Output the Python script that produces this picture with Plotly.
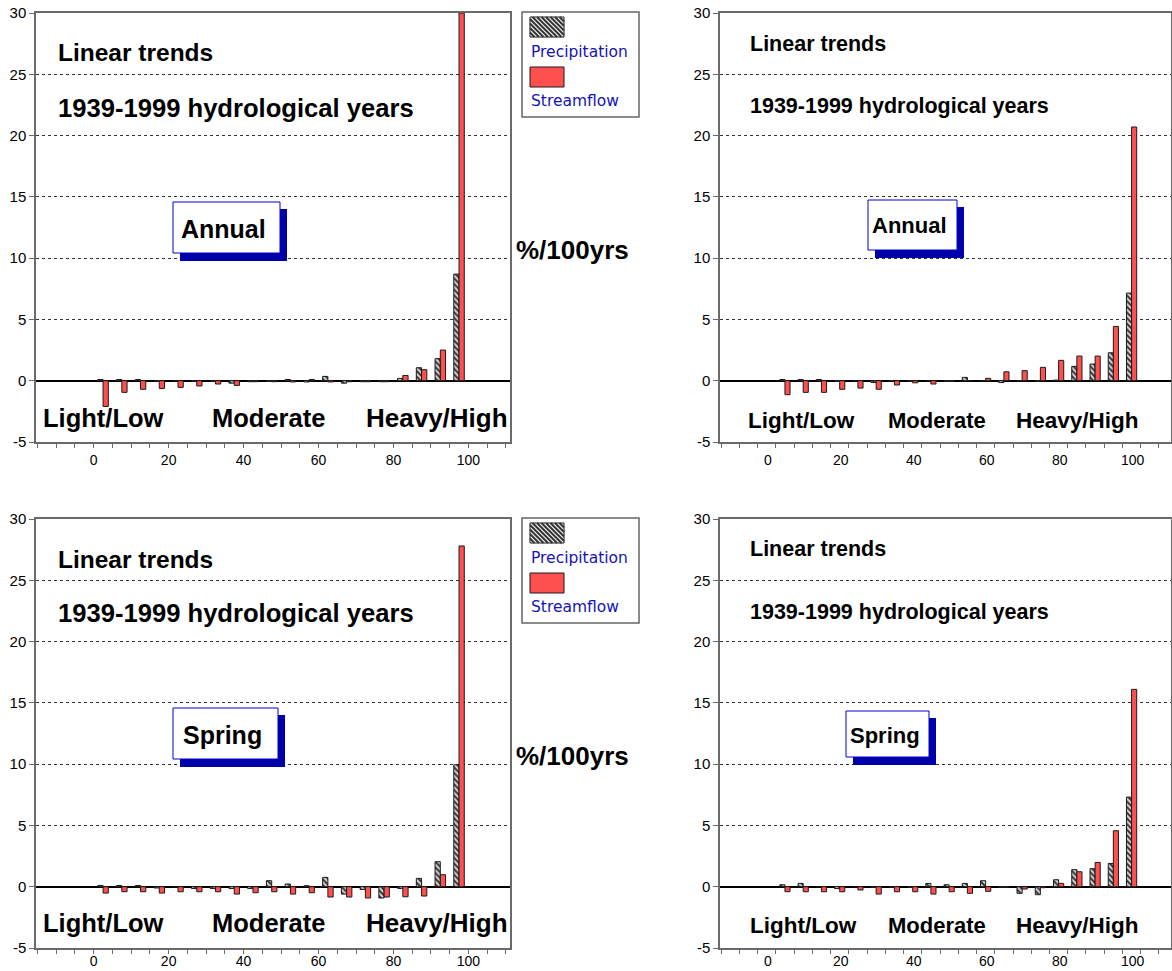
import plotly.graph_objects as go

W, H = 1172, 971

# ---------------- data ----------------
classes = [2.5, 7.5, 12.5, 17.5, 22.5, 27.5, 32.5, 37.5, 42.5, 47.5,
           52.5, 57.5, 62.5, 67.5, 72.5, 77.5, 82.5, 87.5, 92.5, 97.5]
x_tick_vals = [0, 20, 40, 60, 80, 100]
x_tick_text = ["0", "20", "40", "60", "80", "100"]
y_tick_vals = [-5, 0, 5, 10, 15, 20, 25, 30]
y_tick_text = ["-5", "0", "5", "10", "15", "20", "25", "30"]

annual_left_precip = [0.1, 0.1, 0.1, -0.05, 0.0, -0.05, -0.05, -0.2, -0.08, -0.05,
                      0.1, -0.1, 0.35, -0.2, -0.08, -0.08, 0.19, 1.06, 1.8, 8.7]
annual_left_stream = [-2.1, -0.95, -0.7, -0.63, -0.54, -0.43, -0.27, -0.38, -0.08, -0.08,
                      -0.1, 0.1, -0.1, -0.08, -0.08, -0.08, 0.43, 0.9, 2.5, 30.0]

annual_right_precip = [0.1, 0.1, 0.1, -0.05, 0.0, -0.15, -0.05, -0.05, 0.0, -0.05,
                       0.27, 0.0, -0.15, -0.05, -0.05, 0.05, 1.17, 1.36, 2.28, 7.15]
annual_right_stream = [-1.14, -0.95, -0.95, -0.7, -0.6, -0.7, -0.35, -0.17, -0.27, -0.05,
                       0.0, 0.19, 0.73, 0.82, 1.09, 1.66, 2.01, 2.01, 4.43, 20.7]

spring_left_precip = [0.1, 0.1, 0.1, -0.1, 0.0, -0.15, -0.15, -0.15, -0.15, 0.49,
                      0.22, 0.08, 0.76, -0.6, -0.22, -0.92, -0.14, 0.68, 2.04, 9.95]
spring_left_stream = [-0.52, -0.41, -0.41, -0.52, -0.41, -0.41, -0.41, -0.6, -0.49, -0.41,
                      -0.6, -0.49, -0.84, -0.84, -0.92, -0.84, -0.82, -0.76, 0.98, 27.8]

spring_right_precip = [0.16, 0.27, 0.0, -0.15, 0.0, -0.05, -0.05, -0.05, 0.27, 0.16,
                       0.27, 0.49, -0.05, -0.54, -0.65, 0.57, 1.39, 1.47, 1.9, 7.31]
spring_right_stream = [-0.41, -0.41, -0.41, -0.41, -0.27, -0.6, -0.41, -0.41, -0.6, -0.41,
                       -0.54, -0.38, -0.05, -0.19, -0.08, 0.27, 1.22, 1.98, 4.57, 16.1]

panels = [
    ("x", "y", annual_left_precip, annual_left_stream),
    ("x2", "y2", annual_right_precip, annual_right_stream),
    ("x3", "y3", spring_left_precip, spring_left_stream),
    ("x4", "y4", spring_right_precip, spring_right_stream),
]

# ---------------- styling ----------------
RED = "#ff5050"
HATCH_FG = "#333333"
HATCH_BG = "#d9d9d9"
NAVY = "#0000aa"
BLUE = "#1414b4"
AXIS_COL = "#6a6a6a"
BOLD = "Liberation Sans, Arial, sans-serif"


def px(x):
    return x / W


def py(y):
    return 1 - y / H


fig = go.Figure()

for xa, ya, prec, strm in panels:
    fig.add_trace(go.Bar(
        x=classes, y=prec, xaxis=xa, yaxis=ya, name="Precipitation",
        showlegend=False,
        marker=dict(color=HATCH_FG,
                    line=dict(color="#1a1a1a", width=1),
                    pattern=dict(shape="\\", fillmode="replace", fgcolor=HATCH_FG,
                                 bgcolor=HATCH_BG, size=4, solidity=0.5)),
    ))
    fig.add_trace(go.Bar(
        x=classes, y=strm, xaxis=xa, yaxis=ya, name="Streamflow",
        showlegend=False,
        marker=dict(color=RED, line=dict(color="#1a1a1a", width=1)),
    ))

# panel geometry (pixels): left, right, top(30), bottom(-5), x-range, label shift, standoff
geo = {
    "1": (36, 510, 13, 442, [-15.4, 111.1], 0, 0),
    "2": (720, 1171, 13, 442, [-15.3, 108.3], -8, 0),
    "3": (36, 510, 519, 948, [-15.4, 111.1], 0, -5),
    "4": (720, 1171, 519, 948, [-15.3, 108.3], -8, -5),
}

layout = dict(
    width=W, height=H, margin=dict(l=0, r=0, t=0, b=0, autoexpand=False),
    paper_bgcolor="white", plot_bgcolor="white",
    barmode="group", bargap=0.44, bargroupgap=0.0,
    showlegend=False,
)

for k, (l, r, t, b, xr, shift, standoff) in geo.items():
    xname = "xaxis" if k == "1" else f"xaxis{k}"
    yname = "yaxis" if k == "1" else f"yaxis{k}"
    yref = "y" if k == "1" else f"y{k}"
    xref = "x" if k == "1" else f"x{k}"
    layout[xname] = dict(
        domain=[px(l), px(r)], range=xr, anchor=yref, automargin=False,
        tickmode="array", tickvals=x_tick_vals, ticktext=x_tick_text,
        ticks="outside", ticklen=4, tickcolor=AXIS_COL, ticklabelshift=shift,
        ticklabelstandoff=standoff,
        minor=dict(ticks="outside", dtick=5, tick0=0, ticklen=4, tickcolor=AXIS_COL),
        showgrid=False, zeroline=False,
        showline=True, mirror=True, linecolor=AXIS_COL, linewidth=1.5,
        tickfont=dict(family=BOLD, size=14, color="black"),
        fixedrange=True,
    )
    layout[yname] = dict(
        domain=[py(b), py(t)], range=[-5, 30], anchor=xref, automargin=False,
        tickmode="array", tickvals=y_tick_vals, ticktext=y_tick_text,
        ticks="outside", ticklen=5, tickcolor=AXIS_COL,
        showgrid=True, griddash="dot", gridcolor="#333333", gridwidth=1,
        zeroline=True, zerolinecolor="black", zerolinewidth=1.5,
        showline=True, mirror=True, linecolor=AXIS_COL, linewidth=1.5,
        tickfont=dict(family=BOLD, size=15, color="black"),
        fixedrange=True,
    )

fig.update_layout(**layout)

shapes = []
annotations = []


def text(x, y, s, size=25, family=BOLD, color="black", anchor="left", bold=True):
    annotations.append(dict(
        xref="paper", yref="paper", x=px(x - (2 if anchor == "left" else 0)), y=py(y),
        text=(f"<b>{s}</b>" if bold else s),
        showarrow=False, xanchor=anchor, yanchor="middle",
        font=dict(family=family, size=size, color=color),
    ))


def rect(x0, y0, x1, y1, fill, line_col=None, lw=1):
    shapes.append(dict(
        type="rect", xref="paper", yref="paper",
        x0=px(x0), x1=px(x1), y0=py(y1), y1=py(y0),
        fillcolor=fill, line=dict(color=line_col or fill, width=lw if line_col else 0),
        layer="above",
    ))


def hatch_swatch(x0, y0, x1, y1, step=4.5):
    rect(x0, y0, x1, y1, "#f2f2f2", "#1a1a1a", 1)
    w, h = x1 - x0, y1 - y0
    c = -h
    while c < w:
        ts = max(0, -c)
        te = min(h, w - c)
        if te > ts:
            shapes.append(dict(
                type="line", xref="paper", yref="paper",
                x0=px(x0 + ts + c), y0=py(y0 + ts), x1=px(x0 + te + c), y1=py(y0 + te),
                line=dict(color=HATCH_FG, width=2), layer="above",
            ))
        c += step


def label_box(x0, y0, x1, y1, s, size, dx=0):
    rect(x0 + 7, y0 + 7, x1 + 7, y1 + 8, NAVY)
    rect(x0, y0, x1, y1, "white", "#0000cc", 1)
    text((x0 + x1) / 2 + dx, (y0 + y1) / 2 + 1, s, size=size, anchor="center")


def legend_box(top):
    rect(522, top, 639, top + 105, "white", "#666666", 1.5)
    hatch_swatch(530, top + 5, 564, top + 25)
    text(531, top + 40, "Precipitation", size=15.5, family="DejaVu Sans", color=BLUE, bold=False)
    rect(530, top + 55, 564, top + 75, RED, "#1a1a1a", 1)
    text(531, top + 89, "Streamflow", size=15.5, family="DejaVu Sans", color=BLUE, bold=False)


# panel 1 (Annual, left)
text(58, 53, "Linear trends", size=24.5)
text(58, 108, "1939-1999 hydrological years", size=25.6)
label_box(173, 202, 280, 253, "Annual", 25, dx=-3)
text(516, 250, "%/100yrs", size=26)
legend_box(12)
text(43, 418, "Light/Low", size=25.5)
text(212, 418, "Moderate", size=25.5)
text(366, 418, "Heavy/High", size=26)

# panel 2 (Annual, right)
text(750, 44, "Linear trends", size=21.5)
text(750, 106, "1939-1999 hydrological years", size=21.5)
label_box(868, 200, 957, 250, "Annual", 22, dx=-3)
text(748, 420, "Light/Low", size=22.5)
text(888, 420, "Moderate", size=22)
text(1016, 420, "Heavy/High", size=22.5)

# panel 3 (Spring, left)
text(58, 559, "Linear trends", size=24.5)
text(58, 613, "1939-1999 hydrological years", size=25.6)
label_box(173, 708, 278, 759, "Spring", 25, dx=-3)
text(516, 756, "%/100yrs", size=26)
legend_box(518)
text(43, 923, "Light/Low", size=25.5)
text(212, 923, "Moderate", size=25.5)
text(366, 923, "Heavy/High", size=26)

# panel 4 (Spring, right)
text(750, 549, "Linear trends", size=21.5)
text(750, 612, "1939-1999 hydrological years", size=21.5)
label_box(846, 711, 929, 757, "Spring", 22, dx=-3)
text(750, 925, "Light/Low", size=22.5)
text(888, 925, "Moderate", size=22)
text(1016, 925, "Heavy/High", size=22.5)

fig.update_layout(shapes=shapes, annotations=annotations)

fig.write_html("out.html")
